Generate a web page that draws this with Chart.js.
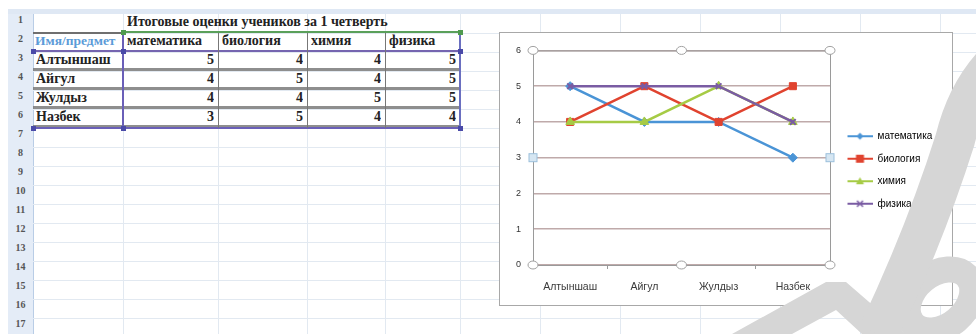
<!DOCTYPE html>
<html><head><meta charset="utf-8">
<script src="https://cdn.jsdelivr.net/npm/chart.js@4"></script>
<style>
body{margin:0;width:976px;height:334px;overflow:hidden;background:#fff;position:relative;}
.abs{position:absolute;}
.hl{position:absolute;height:1px;background:#e2e9f1;}
.vl{position:absolute;width:1px;background:#e2e9f1;}
.rh{position:absolute;left:8px;width:25px;height:19px;line-height:19px;text-align:center;font:bold 10px "Liberation Serif",serif;color:#555;}
.cell{position:absolute;height:19px;line-height:19px;font:bold 14px "Liberation Serif",serif;color:#222;white-space:nowrap;overflow:hidden;}
#chartBox{position:absolute;left:500px;top:33px;width:452px;height:272px;background:#fff;box-shadow:0 0 0 1px #a8a8a8;}
#wm{position:absolute;left:0;top:0;pointer-events:none;}
</style></head>
<body>
<div id="sheet"></div>
<div id="chartBox"><canvas id="c" width="452" height="272"></canvas></div>
<svg id="wm" width="976" height="334">
  <g fill="#d6d6d6" stroke="none">
    <polygon points="732,334 826,282 846,282 906,334 862,334 836,310 792,334"/>
  </g>
  <g fill="none" stroke="#d6d6d6">
    <ellipse cx="940" cy="300" rx="36" ry="26" stroke-width="26" transform="rotate(-40 940 300)"/>
    <path d="M 878 334 Q 925 235 955 140 Q 966 95 992 66" stroke-width="40"/>
  </g>
</svg>
<script>
// ---- data ----
const title = 'Итоговые оценки учеников за 1 четверть';
const headerLabel = 'Имя/предмет';
const categories = ['Алтыншаш', 'Айгул', 'Жулдыз', 'Назбек'];
const subjects = ['математика', 'биология', 'химия', 'физика'];
const math = [5, 4, 4, 3];
const biology = [4, 5, 4, 5];
const chemistry = [4, 4, 5, 4];
const physics = [5, 5, 5, 4];
const yTicks = [0, 1, 2, 3, 4, 5, 6];

const seriesValues = [math, biology, chemistry, physics];
const colors = ['#4a94d6', '#e0432f', '#a6cb45', '#7a5ca3'];
const markers = ['rectRot', 'rect', 'triangle', 'crossRot'];
const radii = [4.5, 5, 5, 4];

// ---- spreadsheet backdrop ----
const sheet = document.getElementById('sheet');
function add(cls, css, text) {
  const d = document.createElement('div');
  d.className = cls;
  d.style.cssText = css;
  if (text !== undefined) d.textContent = text;
  sheet.appendChild(d);
  return d;
}
const rowTop = r => 14 + (r - 1) * 19;
const colX = [33, 123, 218, 307, 385, 460, 540, 620, 700, 780, 860, 940];
add('abs', 'left:8px;top:9px;width:968px;height:5px;background:#dfe8f4;');
add('abs', 'left:8px;top:14px;width:25px;height:320px;background:#e4ecf7;border-right:1px solid #b9cde6;');
for (let r = 1; r <= 17; r++) {
  add('hl', `left:33px;top:${rowTop(r) + 19}px;width:943px;`);
  add('rh', `top:${rowTop(r)}px;`, String(r));
}
colX.slice(1).forEach(x => add('vl', `left:${x}px;top:14px;height:320px;`));
// title
add('cell', `left:127px;top:${rowTop(1)}px;width:340px;`, title);
// header row
add('cell', `left:35px;top:${rowTop(2)}px;width:87px;color:#5b9bd8;font-size:13.5px;`, headerLabel);
subjects.forEach((s, j) => add('cell', `left:${colX[j + 1] + 4}px;top:${rowTop(2)}px;width:${colX[j + 2] - colX[j + 1] - 6}px;`, s));
// data rows
categories.forEach((name, i) => {
  const r = 3 + i;
  add('cell', `left:36px;top:${rowTop(r)}px;width:86px;`, name);
  seriesValues.forEach((vals, j) => {
    add('cell', `left:${colX[j + 1]}px;top:${rowTop(r)}px;width:${colX[j + 2] - colX[j + 1] - 4}px;text-align:right;`, String(vals[i]));
  });
});
// cell borders
add('abs', `left:33px;top:${rowTop(2) - 1}px;width:90px;height:2px;background:#6f6f6f;`);
for (let r = 3; r <= 6; r++) {
  add('abs', `left:33px;top:${rowTop(r) + 16}px;width:427px;height:3px;background:#7a7a7a;opacity:.85;`);
}
add('abs', `left:33px;top:${rowTop(3) - 2}px;width:427px;height:2px;background:#7565b0;`);
add('abs', `left:33px;top:${rowTop(7) - 1}px;width:427px;height:2px;background:#6a5fb8;`);
add('abs', `left:123px;top:${rowTop(2) - 2}px;width:337px;height:2px;background:#5aa05a;`);
[218, 307, 385].forEach(x => add('abs', `left:${x}px;top:${rowTop(2)}px;width:1px;height:${19 * 5}px;background:#777;`));
add('abs', `left:122px;top:${rowTop(2)}px;width:2px;height:${19 * 5}px;background:#6a5fb8;`);
add('abs', `left:459px;top:${rowTop(2)}px;width:2px;height:${19 * 5}px;background:#6a6fc0;`);
[[123, rowTop(2) - 1, '#4f9a4f'], [460, rowTop(2) - 1, '#4f9a4f'], [123, rowTop(3) - 1, '#4a4aa8'], [460, rowTop(3) - 1, '#4a4aa8'], [123, rowTop(7), '#4a4aa8'], [460, rowTop(7), '#4a4aa8'], [33, rowTop(3) - 1, '#4a4aa8'], [33, rowTop(7), '#4a4aa8']]
  .forEach(([x, y, c]) => add('abs', `left:${x - 2}px;top:${y - 2}px;width:5px;height:5px;background:${c};`));

// ---- legend icons (line + marker) ----
function makeIcon(color, marker) {
  const cv = document.createElement('canvas');
  cv.width = 30; cv.height = 12;
  const g = cv.getContext('2d');
  g.strokeStyle = color; g.fillStyle = color; g.lineWidth = 2;
  g.beginPath(); g.moveTo(5, 6); g.lineTo(30, 6); g.stroke();
  const cx = 17.5, cy = 6;
  g.beginPath();
  if (marker === 'rectRot') { g.moveTo(cx, cy - 3.5); g.lineTo(cx + 3.5, cy); g.lineTo(cx, cy + 3.5); g.lineTo(cx - 3.5, cy); g.closePath(); g.fill(); }
  else if (marker === 'rect') { g.fillRect(cx - 4, cy - 4, 8, 8); }
  else if (marker === 'triangle') { g.moveTo(cx, cy - 4); g.lineTo(cx + 4, cy + 3); g.lineTo(cx - 4, cy + 3); g.closePath(); g.fill(); }
  else { g.lineWidth = 1.5; g.moveTo(cx - 3, cy - 3); g.lineTo(cx + 3, cy + 3); g.moveTo(cx + 3, cy - 3); g.lineTo(cx - 3, cy + 3); g.stroke(); }
  return cv;
}
const icons = colors.map((c, i) => makeIcon(c, markers[i]));

const fixLegend = {
  id: 'fixLegend',
  beforeLayout(chart) {
    const lg = chart.legend;
    if (lg && !lg.__patched) {
      const f = lg.fit.bind(lg);
      lg.fit = function () { f(); this.width = 122; };
      lg.__patched = true;
    }
  },
  afterLayout(chart) {
    const lg = chart.legend;
    if (lg) { lg.top -= 7; lg.bottom -= 7; }
  }
};
const plotFrame = {
  id: 'plotFrame',
  afterDraw(chart) {
    const { ctx, chartArea: a } = chart;
    ctx.save();
    ctx.strokeStyle = '#9a9a9a'; ctx.lineWidth = 1;
    ctx.strokeRect(a.left + 0.5, a.top + 0.5, a.right - a.left, a.bottom - a.top);
    const mx = (a.left + a.right) / 2, my = (a.top + a.bottom) / 2;
    [[a.left, a.top], [mx, a.top], [a.right, a.top], [a.left, a.bottom], [mx, a.bottom], [a.right, a.bottom]].forEach(([x, y]) => {
      ctx.beginPath(); ctx.ellipse(x, y, 5, 4, 0, 0, Math.PI * 2);
      ctx.fillStyle = '#fff'; ctx.fill(); ctx.strokeStyle = '#a0a0a0'; ctx.stroke();
    });
    [[a.left, my], [a.right, my]].forEach(([x, y]) => {
      ctx.fillStyle = '#d6e6f2'; ctx.fillRect(x - 4, y - 4, 8, 8);
      ctx.strokeStyle = '#9cc0dc'; ctx.strokeRect(x - 4, y - 4, 8, 8);
    });
    ctx.restore();
  }
};

new Chart(document.getElementById('c'), {
  type: 'line',
  data: {
    labels: categories,
    datasets: subjects.map((s, i) => ({
      label: s,
      data: seriesValues[i],
      order: subjects.length - 1 - i,
      borderColor: colors[i],
      backgroundColor: colors[i],
      pointBackgroundColor: colors[i],
      pointBorderColor: colors[i],
      pointStyle: markers[i],
      pointRadius: radii[i],
      pointBorderWidth: markers[i] === 'crossRot' ? 2 : 1,
      borderWidth: 2.5,
      tension: 0,
      fill: false
    }))
  },
  options: {
    responsive: false,
    animation: false,
    devicePixelRatio: 1,
    layout: { padding: { top: 16, left: 0, right: 0, bottom: 0 } },
    plugins: {
      tooltip: { enabled: false },
      legend: {
        position: 'right',
        labels: {
          usePointStyle: true,
          pointStyleWidth: 30,
          padding: 12.5,
          color: '#4a4a4a',
          font: { family: 'Liberation Sans', size: 10 },
          generateLabels(chart) {
            return chart.data.datasets.map((ds, i) => ({
              text: ds.label, pointStyle: icons[i], fillStyle: ds.borderColor,
              strokeStyle: ds.borderColor, lineWidth: 0, hidden: false, datasetIndex: i
            }));
          }
        }
      }
    },
    scales: {
      x: {
        offset: true,
        afterFit(s) { s.height = 40; },
        grid: { display: true, offset: true, drawOnChartArea: false, drawTicks: true, tickLength: 4, color: '#9a9a9a' },
        border: { display: false },
        ticks: { autoSkip: false, maxRotation: 0, padding: 12, color: '#3a3a3a', font: { family: 'Liberation Sans', size: 10.5 } }
      },
      y: {
        min: yTicks[0],
        max: yTicks[yTicks.length - 1],
        afterFit(s) { s.width = 33; },
        afterBuildTicks(s) { s.ticks = yTicks.map(v => ({ value: v })); },
        grid: { color: '#bfaaaa', lineWidth: 1.5, drawTicks: false },
        border: { display: true, color: '#9a9a9a' },
        ticks: { padding: 12, color: '#333', font: { family: 'Liberation Sans', size: 9 } }
      }
    }
  },
  plugins: [fixLegend, plotFrame]
});
</script>
</body></html>
